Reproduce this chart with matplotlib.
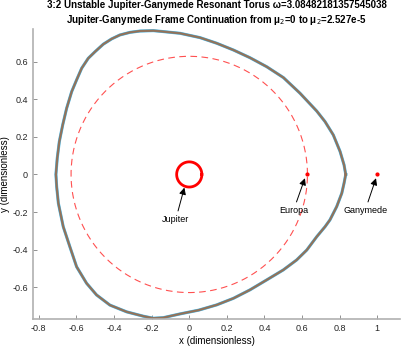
import numpy as np
import matplotlib
matplotlib.use('Agg')
import matplotlib.pyplot as plt

plt.rcParams['font.family'] = ['Liberation Sans', 'DejaVu Sans']

# torus curve (counterclockwise from the right)
torus_x = [0.832, 0.823, 0.802, 0.766, 0.722, 0.678, 0.589, 0.501, 0.412, 0.323, 0.235,
           0.146, 0.057, -0.049, -0.138, -0.191, -0.262, -0.315, -0.369, -0.413, -0.457,
           -0.501, -0.537, -0.572, -0.599, -0.625, -0.652, -0.673, -0.691, -0.702, -0.709,
           -0.705, -0.696, -0.670, -0.635, -0.599, -0.546, -0.493, -0.422, -0.333, -0.245,
           -0.191, -0.138, -0.049, 0.050, 0.146, 0.235, 0.323, 0.412, 0.500, 0.571,
           0.625, 0.678, 0.722, 0.748, 0.784, 0.811, 0.823, 0.832]
torus_y = [0.000, 0.051, 0.122, 0.210, 0.281, 0.337, 0.432, 0.515, 0.573, 0.621, 0.662,
           0.698, 0.728, 0.751, 0.760, 0.765, 0.763, 0.756, 0.742, 0.721, 0.693,
           0.653, 0.618, 0.565, 0.503, 0.441, 0.352, 0.263, 0.174, 0.086, 0.000,
           -0.065, -0.153, -0.278, -0.384, -0.491, -0.579, -0.641, -0.695, -0.731, -0.754,
           -0.765, -0.762, -0.742, -0.722, -0.694, -0.659, -0.614, -0.561, -0.508, -0.455,
           -0.402, -0.331, -0.278, -0.242, -0.171, -0.100, -0.047, 0.000]

europa_r = 0.6285
jupiter_r = 0.067
europa_pos = (0.628, 0.0)
ganymede_pos = (1.0, 0.0)

labels = ['Jupiter', 'Europa', 'Ganymede']
arrow_tips = [(-0.026, -0.07), (0.615, -0.02), (0.993, -0.02)]
text_pos = [(-0.072, -0.24), (0.554, -0.192), (0.935, -0.192)]

fig = plt.figure(figsize=(4.07, 3.49), dpi=100)
ax = fig.add_axes([0.081, 0.086, 0.902, 0.831])

th = np.linspace(0, 2 * np.pi, 400)
ax.plot(europa_r * np.cos(th), europa_r * np.sin(th), '--', color='#ff5050', lw=0.8,
        dashes=(6, 4))
ax.plot(jupiter_r * np.cos(th), jupiter_r * np.sin(th), color='#ff0000', lw=2)

ax.plot(torus_x, torus_y, color='#4dbeee', lw=2.2, solid_joinstyle='round')
ax.plot(torus_x, torus_y, color='#857a70', lw=1.7, solid_joinstyle='round')
ax.plot(torus_x, torus_y, color='#9c6f4c', lw=0.8, alpha=0.8, solid_joinstyle='round')

ax.plot(*europa_pos, 'o', color='red', ms=2)
ax.plot(*ganymede_pos, 'o', color='red', ms=2)

for lab, tip, tp in zip(labels, arrow_tips, text_pos):
    ax.annotate(lab, xy=tip, xytext=tp, fontsize=6.5, ha='center', va='center',
                arrowprops=dict(arrowstyle='-|>', color='black', lw=0.7,
                                mutation_scale=10, shrinkA=1, shrinkB=0))

ax.set_xlim(-0.831, 1.121)
ax.set_ylim(-0.769, 0.774)
ax.set_xticks(np.arange(-0.8, 1.01, 0.2))
ax.set_yticks(np.arange(-0.6, 0.61, 0.2))
ax.set_xticklabels(['-0.8', '-0.6', '-0.4', '-0.2', '0', '0.2', '0.4', '0.6', '0.8', '1'])
ax.set_yticklabels(['-0.6', '-0.4', '-0.2', '0', '0.2', '0.4', '0.6'])
ax.tick_params(direction='in', length=3, width=0.6, colors='#262626', labelsize=6.5,
               color='#808080')
for s in ['top', 'right']:
    ax.spines[s].set_visible(False)
for s in ['left', 'bottom']:
    ax.spines[s].set_color('#b0b0b0')
    ax.spines[s].set_linewidth(1.2)

ax.set_xlabel('x (dimensionless)', fontsize=7, labelpad=2)
ax.set_ylabel('y (dimensionless)', fontsize=7, labelpad=2)
ax.set_title('3:2 Unstable Jupiter-Ganymede Resonant Torus \u03c9=3.08482181357545038\n'
             'Jupiter-Ganymede Frame Continuation from \u03bc$_2$=0 to \u03bc$_2$=2.527e-5',
             fontsize=7, fontweight='bold', pad=4, linespacing=1.3)

fig.savefig('out.png', dpi=100)
